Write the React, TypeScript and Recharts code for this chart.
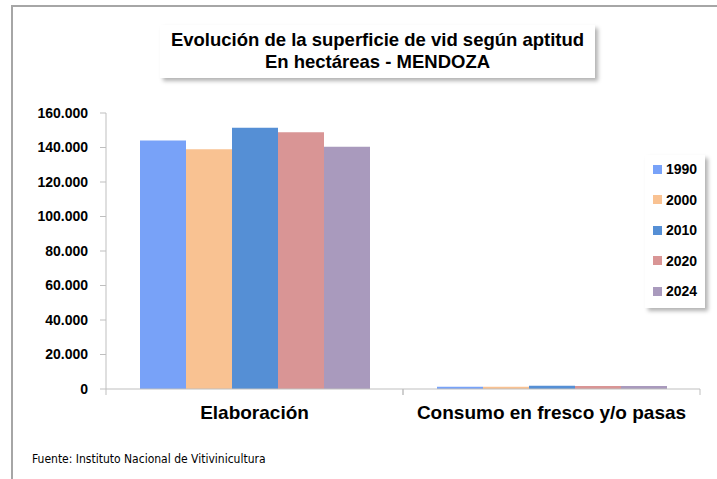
import { BarChart, Bar, XAxis, YAxis } from 'recharts';

const categories = ['Elaboración', 'Consumo en fresco y/o pasas'];
const years = ['1990', '2000', '2010', '2020', '2024'];
const colors = ['#78a2f8', '#f9c292', '#558fd5', '#d99595', '#a99abd'];

// hectáreas por año: [Elaboración, Consumo en fresco y/o pasas]
const ha1990 = [144100, 1300];
const ha2000 = [139000, 1300];
const ha2010 = [151400, 1900];
const ha2020 = [148900, 1700];
const ha2024 = [140400, 1700];

const yTicks = [0, 20000, 40000, 60000, 80000, 100000, 120000, 140000, 160000];

const seriesValues = [ha1990, ha2000, ha2010, ha2020, ha2024];

const data = categories.map((name, i) => {
  const row: Record<string, string | number> = { name };
  years.forEach((y, j) => {
    row[y] = seriesValues[j][i];
  });
  return row;
});

const fmt = (v: number) => String(v).replace(/\B(?=(\d{3})+(?!\d))/g, '.');

const font = '"Liberation Sans", Arial, sans-serif';
const axisGray = '#bfbfbf';
const CAT_MARGIN = 17;

// category label plus tick marks at the band edges (Excel style)
function CategoryTick(props: any) {
  const { x, y, payload } = props;
  const half = payload.offset || 0;
  const y0 = y - CAT_MARGIN;
  return (
    <g>
      <line x1={x - half} x2={x - half} y1={y0} y2={y0 + 6} stroke={axisGray} />
      <line x1={x + half} x2={x + half} y1={y0} y2={y0 + 6} stroke={axisGray} />
      <text x={x} y={y} dy="0.71em" textAnchor="middle" fill="#000" fontSize={19} fontWeight="bold" fontFamily={font}>
        {payload.value}
      </text>
    </g>
  );
}

export default function App() {
  return (
    <div style={{ position: 'absolute', left: 0, top: 0, width: 717, height: 479, background: '#fff', overflow: 'hidden', fontFamily: font }}>
      <div style={{ position: 'absolute', left: 11, top: 5, width: 720, height: 490, borderTop: '2px solid #a6a6a6', borderLeft: '2px solid #a6a6a6' }} />

      <BarChart
        width={717}
        height={479}
        data={data}
        margin={{ top: 113, right: 17, left: 10, bottom: 51 }}
        barCategoryGap={34}
        barGap={0}
        style={{ position: 'absolute', left: 0, top: 0 }}
      >
        <XAxis
          dataKey="name"
          axisLine={{ stroke: axisGray }}
          tickLine={false}
          tickSize={0}
          tickMargin={CAT_MARGIN}
          height={39}
          tick={<CategoryTick />}
        />
        <YAxis
          domain={[0, 160000]}
          ticks={yTicks}
          tickFormatter={fmt}
          width={96}
          stroke={axisGray}
          tickSize={6}
          tickMargin={12}
          tick={{ fill: '#000', fontSize: 14, fontWeight: 'bold', fontFamily: font }}
        />
        {years.map((y, j) => (
          <Bar key={y} dataKey={y} fill={colors[j]} isAnimationActive={false} />
        ))}
      </BarChart>

      <div
        style={{
          position: 'absolute', left: 160, top: 25, width: 435, height: 53, background: '#fff',
          boxShadow: '3px 3px 4px rgba(0,0,0,0.3)', textAlign: 'center', fontWeight: 'bold',
          fontSize: 18.5, lineHeight: '22px', paddingTop: 4, boxSizing: 'border-box', color: '#000',
        }}
      >
        <div>Evolución de la superficie de vid según aptitud</div>
        <div>En hectáreas - MENDOZA</div>
      </div>

      <div
        style={{
          position: 'absolute', left: 645, top: 155, width: 60, height: 153, background: '#fff',
          boxShadow: '3px 3px 4px rgba(0,0,0,0.3)',
        }}
      >
        {years.map((y, j) => (
          <div key={y} style={{ position: 'absolute', left: 8, top: 6 + j * 30.5, height: 16, display: 'flex', alignItems: 'center' }}>
            <span style={{ display: 'inline-block', width: 9, height: 9, background: colors[j], marginRight: 4 }} />
            <span style={{ fontSize: 14, fontWeight: 'bold', color: '#000' }}>{y}</span>
          </div>
        ))}
      </div>

      <div
        style={{
          position: 'absolute', left: 32, top: 452, fontSize: 12, color: '#000',
          fontFamily: '"Liberation Sans Narrow", "DejaVu Sans Condensed", sans-serif',
        }}
      >
        Fuente: Instituto Nacional de Vitivinicultura
      </div>
    </div>
  );
}
